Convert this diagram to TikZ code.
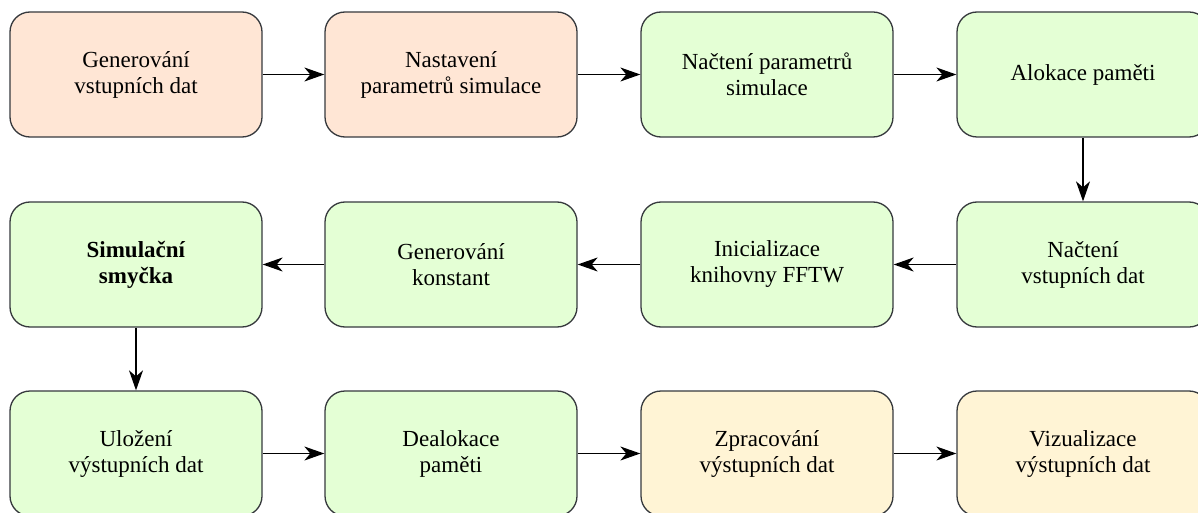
\documentclass[tikz,border=0pt]{standalone}
\usepackage{fontspec}
\setmainfont{Liberation Serif}
\usetikzlibrary{arrows.meta}
\definecolor{boxline}{HTML}{36393D}
\definecolor{prepfill}{HTML}{FFE6D5}
\definecolor{simfill}{HTML}{E4FFD5}
\definecolor{postfill}{HTML}{FFF4D5}
\begin{document}
\begin{tikzpicture}[x=1pt,y=-1pt,
  box/.style={draw=boxline, line width=1.3pt, rounded corners=20pt,
    minimum width=252pt, minimum height=125pt, inner sep=0pt,
    align=center, font=\fontsize{23}{26}\selectfont},
  prep/.style={box, fill=prepfill},
  sim/.style={box, fill=simfill},
  post/.style={box, fill=postfill},
  flow/.style={draw=black, line width=1.3pt,
    -{Stealth[length=20pt, width=14pt, inset=6pt]}}]
\useasboundingbox (0,0) rectangle (1198,513);
\clip (0,0) rectangle (1198,513);

% first row: preparation and start of the simulation program
\node[prep] (gen)   at (136,74.5)  {Generování\\vstupních dat};
\node[prep] (nast)  at (451,74.5)  {Nastavení\\parametrů simulace};
\node[sim]  (ncpar) at (767,74.5)  {Načtení parametrů\\simulace};
\node[sim]  (alok)  at (1083,74.5) {Alokace paměti};

% second row: initialisation, right to left
\node[sim]  (ncdat) at (1083,264.5) {Načtení\\vstupních dat};
\node[sim]  (fftw)  at (767,264.5)  {Inicializace\\knihovny FFTW};
\node[sim]  (konst) at (451,264.5)  {Generování\\konstant};
\node[sim]  (loop)  at (136,264.5)  {\textbf{Simulační}\\\textbf{smyčka}};

% third row: output and post-processing
\node[sim]  (save)  at (136,453.5)  {Uložení\\výstupních dat};
\node[sim]  (dealk) at (451,453.5)  {Dealokace\\paměti};
\node[post] (proc)  at (767,453.5)  {Zpracování\\výstupních dat};
\node[post] (viz)   at (1083,453.5) {Vizualizace\\výstupních dat};

% connectors
\draw[flow] (gen)   -- (nast);
\draw[flow] (nast)  -- (ncpar);
\draw[flow] (ncpar) -- (alok);
\draw[flow] (alok)  -- (ncdat);
\draw[flow] (ncdat) -- (fftw);
\draw[flow] (fftw)  -- (konst);
\draw[flow] (konst) -- (loop);
\draw[flow] (loop)  -- (save);
\draw[flow] (save)  -- (dealk);
\draw[flow] (dealk) -- (proc);
\draw[flow] (proc)  -- (viz);
\end{tikzpicture}
\end{document}
